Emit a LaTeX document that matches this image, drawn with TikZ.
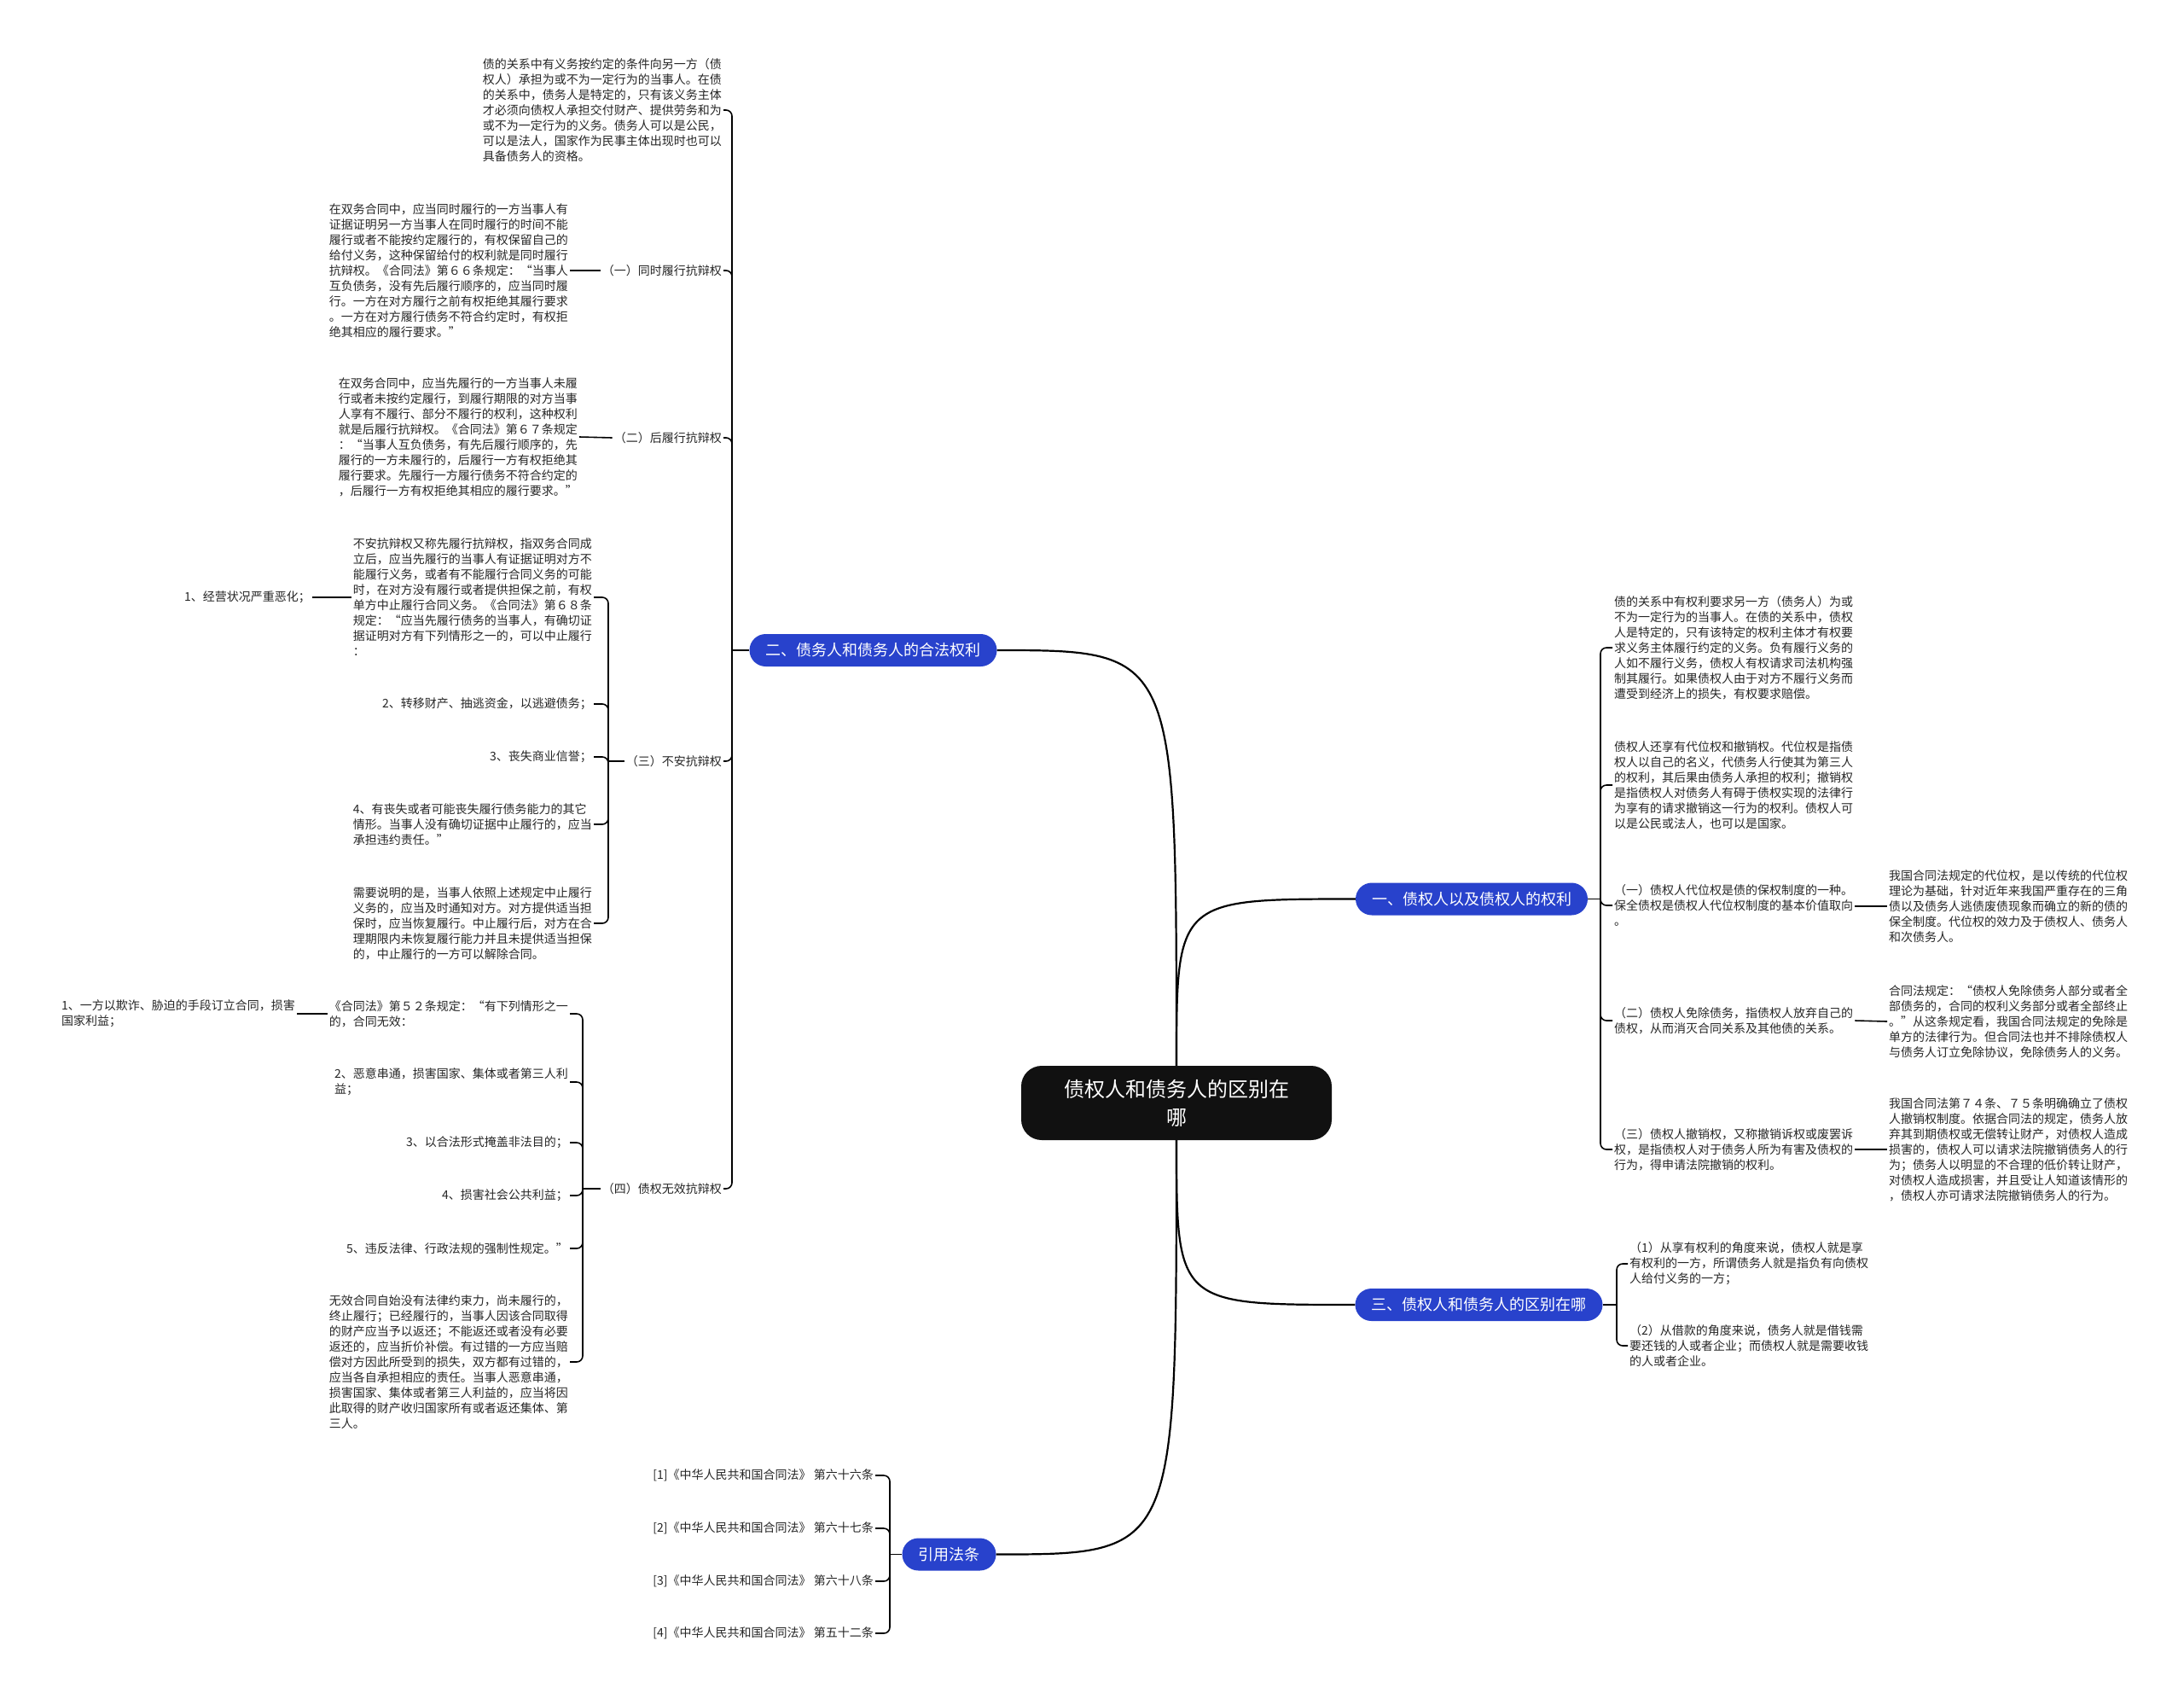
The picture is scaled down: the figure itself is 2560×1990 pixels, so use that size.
\documentclass[tikz,border=0pt]{standalone}
\usepackage{fontspec}
\setmainfont{Noto Sans CJK SC}
\definecolor{myblue}{RGB}{40,66,204}
\definecolor{rootblack}{RGB}{17,17,17}
\begin{document}
\begin{tikzpicture}[x=1pt,y=-1pt,
  txt/.style={font=\fontsize{14pt}{18pt}\selectfont, align=left, inner sep=2pt, text=black!85},
  topic/.style={fill=myblue, text=white, rounded corners=19pt, minimum height=38pt, inner xsep=19pt, inner ysep=0pt, font=\fontsize{18pt}{22pt}\selectfont},
  root/.style={fill=rootblack, text=white, rounded corners=24pt, minimum width=364pt, minimum height=87pt, align=center, font=\fontsize{24pt}{33pt}\selectfont},
  br/.style={draw=black, line width=1.6pt, rounded corners=7pt},
  mainline/.style={draw=black, line width=2.2pt}]
\useasboundingbox (0,0) rectangle (2560,1990);
\fill[white] (0,0) rectangle (2560,1990);

% ---------- root and topics ----------
\node[root] (root) at (1379,1292.5) {债权人和债务人的区别在\\哪};
\node[topic] (b2) at (1023.5,762) {二、债务人和债务人的合法权利};
\node[topic] (b1) at (1725,1053.5) {一、债权人以及债权人的权利};
\node[topic] (b3) at (1733.5,1529) {三、债权人和债务人的区别在哪};
\node[topic] (b4) at (1112.5,1821.5) {引用法条};

\draw[mainline] (root.north) .. controls (root.north |- b2.east) .. (b2.east);
\draw[mainline] (root.north) .. controls (root.north |- b1.west) .. (b1.west);
\draw[mainline] (root.south) .. controls (root.south |- b3.west) .. (b3.west);
\draw[mainline] (root.south) .. controls (root.south |- b4.east) .. (b4.east);

% ---------- branch 二 (left) ----------
\node[txt, anchor=east] (t0) at (848,129) {债的关系中有义务按约定的条件向另一方（债\\权人）承担为或不为一定行为的当事人。在债\\的关系中，债务人是特定的，只有该义务主体\\才必须向债权人承担交付财产、提供劳务和为\\或不为一定行为的义务。债务人可以是公民，\\可以是法人，国家作为民事主体出现时也可以\\具备债务人的资格。};
\node[txt, anchor=east] (l1) at (848,317) {（一）同时履行抗辩权};
\node[txt, anchor=east] (t1) at (668,317) {在双务合同中，应当同时履行的一方当事人有\\证据证明另一方当事人在同时履行的时间不能\\履行或者不能按约定履行的，有权保留自己的\\给付义务，这种保留给付的权利就是同时履行\\抗辩权。《合同法》第６６条规定：“当事人\\互负债务，没有先后履行顺序的，应当同时履\\行。一方在对方履行之前有权拒绝其履行要求\\。一方在对方履行债务不符合约定时，有权拒\\绝其相应的履行要求。”};
\node[txt, anchor=east] (l2) at (848,513) {（二）后履行抗辩权};
\node[txt, anchor=east] (t2) at (679,512) {在双务合同中，应当先履行的一方当事人未履\\行或者未按约定履行，到履行期限的对方当事\\人享有不履行、部分不履行的权利，这种权利\\就是后履行抗辩权。《合同法》第６７条规定\\：“当事人互负债务，有先后履行顺序的，先\\履行的一方未履行的，后履行一方有权拒绝其\\履行要求。先履行一方履行债务不符合约定的\\，后履行一方有权拒绝其相应的履行要求。”};
\node[txt, anchor=east] (l3) at (848,892) {（三）不安抗辩权};
\node[txt, anchor=east] (t3a) at (696,700) {不安抗辩权又称先履行抗辩权，指双务合同成\\立后，应当先履行的当事人有证据证明对方不\\能履行义务，或者有不能履行合同义务的可能\\时，在对方没有履行或者提供担保之前，有权\\单方中止履行合同义务。《合同法》第６８条\\规定：“应当先履行债务的当事人，有确切证\\据证明对方有下列情形之一的，可以中止履行\\：};
\node[txt, anchor=east] (t3a1) at (366,700) {1、经营状况严重恶化；};
\node[txt, anchor=east] (t3b) at (696,825) {2、转移财产、抽逃资金，以逃避债务；};
\node[txt, anchor=east] (t3c) at (696,887) {3、丧失商业信誉；};
\node[txt, anchor=east] (t3d) at (696,966) {4、有丧失或者可能丧失履行债务能力的其它\\情形。当事人没有确切证据中止履行的，应当\\承担违约责任。”};
\node[txt, anchor=east] (t3e) at (696,1082) {需要说明的是，当事人依照上述规定中止履行\\义务的，应当及时通知对方。对方提供适当担\\保时，应当恢复履行。中止履行后，对方在合\\理期限内未恢复履行能力并且未提供适当担保\\的，中止履行的一方可以解除合同。};
\node[txt, anchor=east] (l4) at (848,1393) {（四）债权无效抗辩权};
\node[txt, anchor=east] (t4a) at (668,1188) {《合同法》第５２条规定：“有下列情形之一\\的，合同无效：};
\node[txt, anchor=east] (t4a1) at (348,1188) {1、一方以欺诈、胁迫的手段订立合同，损害\\国家利益；};
\node[txt, anchor=east] (t4b) at (668,1268) {2、恶意串通，损害国家、集体或者第三人利\\益；};
\node[txt, anchor=east] (t4c) at (668,1339) {3、以合法形式掩盖非法目的；};
\node[txt, anchor=east] (t4d) at (668,1401) {4、损害社会公共利益；};
\node[txt, anchor=east] (t4e) at (668,1463) {5、违反法律、行政法规的强制性规定。”};
\node[txt, anchor=east] (t4f) at (668,1596) {无效合同自始没有法律约束力，尚未履行的，\\终止履行；已经履行的，当事人因该合同取得\\的财产应当予以返还；不能返还或者没有必要\\返还的，应当折价补偿。有过错的一方应当赔\\偿对方因此所受到的损失，双方都有过错的，\\应当各自承担相应的责任。当事人恶意串通，\\损害国家、集体或者第三人利益的，应当将因\\此取得的财产收归国家所有或者返还集体、第\\三人。};

\coordinate (j2) at (858,762);
\draw[br] (b2.west) -- (j2);
\foreach \n in {t0,l1,l2,l3,l4} \draw[br] (j2) |- (\n.east);
\draw[br] (l1.west) -- (t1.east);
\draw[br] (l2.west) -- (t2.east);
\coordinate (j3) at (713,892);
\draw[br] (l3.west) -- (j3);
\foreach \n in {t3a,t3b,t3c,t3d,t3e} \draw[br] (j3) |- (\n.east);
\draw[br] (t3a.west) -- (t3a1.east);
\coordinate (j4) at (683,1393);
\draw[br] (l4.west) -- (j4);
\foreach \n in {t4a,t4b,t4c,t4d,t4e,t4f} \draw[br] (j4) |- (\n.east);
\draw[br] (t4a.west) -- (t4a1.east);

% ---------- branch 一 (right) ----------
\node[txt, anchor=west] (r1) at (1890,759) {债的关系中有权利要求另一方（债务人）为或\\不为一定行为的当事人。在债的关系中，债权\\人是特定的，只有该特定的权利主体才有权要\\求义务主体履行约定的义务。负有履行义务的\\人如不履行义务，债权人有权请求司法机构强\\制其履行。如果债权人由于对方不履行义务而\\遭受到经济上的损失，有权要求赔偿。};
\node[txt, anchor=west] (r2) at (1890,920) {债权人还享有代位权和撤销权。代位权是指债\\权人以自己的名义，代债务人行使其为第三人\\的权利，其后果由债务人承担的权利；撤销权\\是指债权人对债务人有碍于债权实现的法律行\\为享有的请求撤销这一行为的权利。债权人可\\以是公民或法人，也可以是国家。};
\node[txt, anchor=west] (r3) at (1890,1061) {（一）债权人代位权是债的保权制度的一种。\\保全债权是债权人代位权制度的基本价值取向\\。};
\node[txt, anchor=west] (r3c) at (2212,1062) {我国合同法规定的代位权，是以传统的代位权\\理论为基础，针对近年来我国严重存在的三角\\债以及债务人逃债废债现象而确立的新的债的\\保全制度。代位权的效力及于债权人、债务人\\和次债务人。};
\node[txt, anchor=west] (r4) at (1890,1196) {（二）债权人免除债务，指债权人放弃自己的\\债权，从而消灭合同关系及其他债的关系。};
\node[txt, anchor=west] (r4c) at (2212,1197) {合同法规定：“债权人免除债务人部分或者全\\部债务的，合同的权利义务部分或者全部终止\\。”从这条规定看，我国合同法规定的免除是\\单方的法律行为。但合同法也并不排除债权人\\与债务人订立免除协议，免除债务人的义务。};
\node[txt, anchor=west] (r5) at (1890,1347) {（三）债权人撤销权，又称撤销诉权或废罢诉\\权，是指债权人对于债务人所为有害及债权的\\行为，得申请法院撤销的权利。};
\node[txt, anchor=west] (r5c) at (2212,1347) {我国合同法第７４条、７５条明确确立了债权\\人撤销权制度。依据合同法的规定，债务人放\\弃其到期债权或无偿转让财产，对债权人造成\\损害的，债权人可以请求法院撤销债务人的行\\为；债务人以明显的不合理的低价转让财产，\\对债权人造成损害，并且受让人知道该情形的\\，债权人亦可请求法院撤销债务人的行为。};

\coordinate (j1) at (1876,1053.5);
\draw[br] (b1.east) -- (j1);
\foreach \n in {r1,r2,r3,r4,r5} \draw[br] (j1) |- (\n.west);
\draw[br] (r3.east |- r3c.west) -- (r3c.west);
\draw[br] (r4.east) -- (r4c.west);
\draw[br] (r5.east) -- (r5c.west);

% ---------- branch 三 (right) ----------
\node[txt, anchor=west] (s1) at (1908,1481) {（1）从享有权利的角度来说，债权人就是享\\有权利的一方，所谓债务人就是指负有向债权\\人给付义务的一方；};
\node[txt, anchor=west] (s2) at (1908,1577) {（2）从借款的角度来说，债务人就是借钱需\\要还钱的人或者企业；而债权人就是需要收钱\\的人或者企业。};
\coordinate (jS) at (1895,1529);
\draw[br] (b3.east) -- (jS);
\foreach \n in {s1,s2} \draw[br] (jS) |- (\n.west);

% ---------- 引用法条 (left) ----------
\node[txt, anchor=east] (c1) at (1026,1729) {[1]《中华人民共和国合同法》 第六十六条};
\node[txt, anchor=east] (c2) at (1026,1791) {[2]《中华人民共和国合同法》 第六十七条};
\node[txt, anchor=east] (c3) at (1026,1853) {[3]《中华人民共和国合同法》 第六十八条};
\node[txt, anchor=east] (c4) at (1026,1914) {[4]《中华人民共和国合同法》 第五十二条};
\coordinate (jC) at (1043,1821.5);
\draw[br] (b4.west) -- (jC);
\foreach \n in {c1,c2,c3,c4} \draw[br] (jC) |- (\n.east);
\end{tikzpicture}
\end{document}
